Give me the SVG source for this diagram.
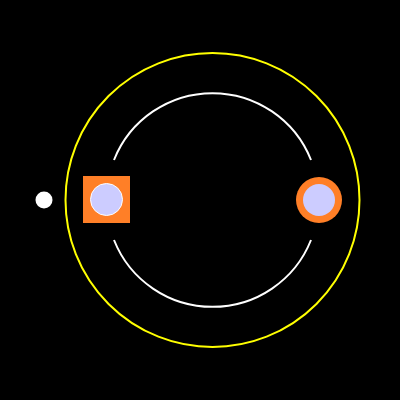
<svg xmlns="http://www.w3.org/2000/svg" width="400" height="400" viewBox="0 0 400 400">
<style>
.arc{fill:none;stroke:#ffffff;stroke-width:2}
.inner{fill:#ccccff;stroke:#ffffff;stroke-width:1}
.orange{fill:#ff7f27}
</style>
<rect x="0" y="0" width="400" height="400" fill="#000000"/>
<g id="orbit">
<circle cx="212.5" cy="200" r="147" fill="none" stroke="#ffff00" stroke-width="2"/>
</g>
<g id="connectors">
<path class="arc" d="M114 160 A106 106 0 0 1 311 160"/>
<path class="arc" d="M114 240 A106 106 0 0 0 311 240"/>
</g>
<g id="dot">
<circle cx="44" cy="200" r="8.5" fill="#ffffff"/>
</g>
<g id="square-node">
<rect class="orange" x="83" y="176" width="47" height="47"/>
<circle class="inner" cx="106.5" cy="199.5" r="16"/>
</g>
<g id="circle-node">
<circle class="orange" cx="319" cy="200" r="23"/>
<circle cx="319" cy="200" r="16" fill="#ccccff"/>
</g>
</svg>
